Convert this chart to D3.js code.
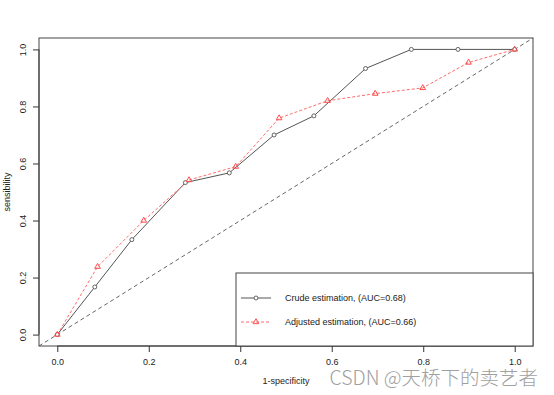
<!DOCTYPE html>
<html>
<head>
<meta charset="utf-8">
<script src="https://cdn.jsdelivr.net/npm/d3@7"></script>
<style>
  body { margin: 0; background: #fff; }
  text { font-family: "Liberation Sans", Arial, sans-serif; }
</style>
</head>
<body>
<div id="roc_svg"></div>
<script>
// ROC points
var crudeFpr = [0, 0.082, 0.163, 0.28, 0.376, 0.474, 0.561, 0.674, 0.774, 0.876, 1.0];
var crudeTpr = [0, 0.167, 0.333, 0.533, 0.567, 0.70, 0.767, 0.933, 1.0, 1.0, 1.0];
var adjFpr = [0, 0.088, 0.189, 0.288, 0.39, 0.485, 0.591, 0.695, 0.799, 0.899, 1.0];
var adjTpr = [0, 0.238, 0.40, 0.542, 0.589, 0.759, 0.82, 0.845, 0.865, 0.954, 1.0];
var tickValues = [0, 0.2, 0.4, 0.6, 0.8, 1.0];
var legendLabels = ["Crude estimation, (AUC=0.68)", "Adjusted estimation, (AUC=0.66)"];

var W = 554, H = 395;
var box = { left: 39, right: 533, top: 38, bottom: 346 };

var xScale = d3.scaleLinear().domain([-0.04, 1.04]).range([box.left, box.right]);
var yScale = d3.scaleLinear().domain([-0.04, 1.04]).range([box.bottom, box.top]);

var svg = d3.select("#roc_svg").append("svg")
    .attr("width", W)
    .attr("height", H);

svg.append("defs").append("clipPath").attr("id", "clip")
    .append("rect")
    .attr("x", box.left).attr("y", box.top)
    .attr("width", box.right - box.left).attr("height", box.bottom - box.top);

// diagonal reference line
svg.append("line")
    .attr("clip-path", "url(#clip)")
    .attr("x1", xScale(-0.04)).attr("y1", yScale(-0.04))
    .attr("x2", xScale(1.04)).attr("y2", yScale(1.04))
    .style("stroke", "#555")
    .style("stroke-width", 0.9)
    .style("stroke-dasharray", "4,3");

var crude = crudeFpr.map(function (d, i) { return { x: d, y: crudeTpr[i] }; });
var adj = adjFpr.map(function (d, i) { return { x: d, y: adjTpr[i] }; });

var line = d3.line()
    .x(function (d) { return xScale(d.x); })
    .y(function (d) { return yScale(d.y); });

svg.append("path").datum(crude)
    .attr("d", line)
    .style("fill", "none")
    .style("stroke", "#555")
    .style("stroke-width", 1);

svg.append("path").datum(adj)
    .attr("d", line)
    .style("fill", "none")
    .style("stroke", "#ff6b6b")
    .style("stroke-width", 1)
    .style("stroke-dasharray", "3,2");

var triangle = d3.symbol().type(d3.symbolTriangle).size(14);

svg.selectAll(".crude-pt")
    .data(crude)
    .enter().append("circle")
    .attr("class", "crude-pt")
    .attr("cx", function (d) { return xScale(d.x); })
    .attr("cy", function (d) { return yScale(d.y); })
    .attr("r", 2)
    .style("fill", "#fff")
    .style("stroke", "#555")
    .style("stroke-width", 0.9);

svg.selectAll(".adj-pt")
    .data(adj)
    .enter().append("path")
    .attr("class", "adj-pt")
    .attr("d", triangle)
    .attr("transform", function (d) { return "translate(" + xScale(d.x) + "," + yScale(d.y) + ")"; })
    .style("fill", "none")
    .style("stroke", "#ff4d4d")
    .style("stroke-width", 1);

// axes
var xAxis = d3.axisBottom(xScale).tickValues(tickValues).tickSize(6).tickFormat(d3.format(".1f"));
var yAxis = d3.axisLeft(yScale).tickValues(tickValues).tickSize(6).tickFormat(d3.format(".1f"));

var gx = svg.append("g")
    .attr("class", "x axis")
    .attr("transform", "translate(0," + box.bottom + ")")
    .call(xAxis);
gx.select(".domain").attr("d", "M" + xScale(0) + ",0H" + xScale(1)).style("stroke", "#333");
gx.selectAll(".tick line").style("stroke", "#333");
gx.selectAll("text")
    .style("font-size", "9px")
    .style("fill", "#222")
    .attr("y", 13);

var gy = svg.append("g")
    .attr("class", "y axis")
    .attr("transform", "translate(" + box.left + ",0)")
    .call(yAxis);
gy.select(".domain").attr("d", "M0," + yScale(0) + "V" + yScale(1)).style("stroke", "#333");
gy.selectAll(".tick line").style("stroke", "#333");
gy.selectAll("text")
    .style("font-size", "9px")
    .style("fill", "#222")
    .style("text-anchor", "middle")
    .attr("x", 0).attr("dy", 0)
    .attr("transform", "translate(-15,0) rotate(-90)")
    .attr("y", 0)
    .attr("dominant-baseline", "middle");

// plot box
svg.append("rect")
    .attr("x", box.left).attr("y", box.top)
    .attr("width", box.right - box.left).attr("height", box.bottom - box.top)
    .style("fill", "none")
    .style("stroke", "#444")
    .style("stroke-width", 1);

// axis titles
svg.append("text")
    .attr("x", xScale(0.5)).attr("y", 384)
    .attr("text-anchor", "middle")
    .style("font-size", "9px")
    .style("fill", "#222")
    .text("1-specificity");

svg.append("text")
    .attr("transform", "translate(10," + yScale(0.5) + ") rotate(-90)")
    .attr("text-anchor", "middle")
    .style("font-size", "9px")
    .style("fill", "#222")
    .text("sensibility");

// legend
var legend = svg.append("g");
legend.append("rect")
    .attr("x", 236).attr("y", 273)
    .attr("width", box.right - 236).attr("height", box.bottom - 273)
    .style("fill", "#fff")
    .style("stroke", "#444")
    .style("stroke-width", 1);

var legY = [298, 322];
legend.append("line")
    .attr("x1", 241).attr("x2", 271).attr("y1", legY[0]).attr("y2", legY[0])
    .style("stroke", "#555").style("stroke-width", 1);
legend.append("circle")
    .attr("cx", 256).attr("cy", legY[0]).attr("r", 2)
    .style("fill", "#fff").style("stroke", "#555").style("stroke-width", 0.9);
legend.append("line")
    .attr("x1", 241).attr("x2", 271).attr("y1", legY[1]).attr("y2", legY[1])
    .style("stroke", "#ff6b6b").style("stroke-width", 1).style("stroke-dasharray", "3,2");
legend.append("path")
    .attr("d", triangle)
    .attr("transform", "translate(256," + legY[1] + ")")
    .style("fill", "none").style("stroke", "#ff4d4d").style("stroke-width", 1);

legend.selectAll(".leg-text")
    .data(legendLabels)
    .enter().append("text")
    .attr("class", "leg-text")
    .attr("x", 285)
    .attr("y", function (d, i) { return legY[i]; })
    .attr("dy", "0.35em")
    .style("font-size", "9px")
    .style("fill", "#222")
    .text(function (d) { return d; });

// watermark
svg.append("text")
    .attr("x", 538).attr("y", 385)
    .attr("text-anchor", "end")
    .style("font-family", "'Noto Sans CJK SC', 'Noto Sans', sans-serif")
    .style("font-size", "19.5px")
    .style("font-weight", 300)
    .style("fill", "#a0a0a0")
    .text("CSDN @天桥下的卖艺者");
</script>
</body>
</html>
